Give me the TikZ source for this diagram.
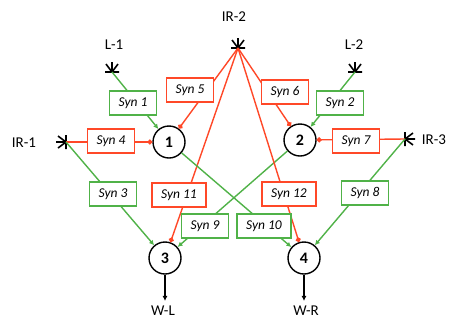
\documentclass[tikz,border=0pt]{standalone}
\usepackage{fontspec}
\setmainfont{Carlito}
\usepackage{tikz}
\usetikzlibrary{arrows.meta}
\definecolor{synG}{RGB}{80,178,72}
\definecolor{synR}{RGB}{255,72,40}

\begin{document}
\begin{tikzpicture}[x=1pt,y=-1pt,
  every node/.style={font=\fontsize{15}{17}\selectfont},
  neuron/.style={circle,draw,line width=1.4pt,minimum size=32pt,inner sep=0pt,font=\fontsize{16}{17}\selectfont\bfseries},
  synbox/.style={draw,fill=white,line width=1.4pt,minimum height=24pt,inner xsep=9pt,font=\fontsize{13.5}{15}\selectfont\itshape},
  syng/.style={synbox,draw=synG},
  synr/.style={synbox,draw=synR},
  exc/.style={synG,line width=1.4pt,-{Latex[length=5pt,width=5pt]}},
  inh/.style={synR,line width=1.4pt,-{Circle[length=5pt]}},
  receptor/.pic={\draw[line width=1.6pt] (-7,0) -- (7,0) (0,0) -- (-6,-8) (0,0) -- (0,-10) (0,0) -- (6,-8);}]
  \useasboundingbox (0,0) rectangle (457,322);

  \coordinate (l1) at (112,72);
  \coordinate (l2) at (355,72);
  \coordinate (ir2) at (238,48);
  \coordinate (ir1) at (66,142);
  \coordinate (ir3) at (405,139);
  \pic at (l1) {receptor};
  \pic at (l2) {receptor};
  \pic at (ir2) {receptor};
  \pic[rotate=90] at (ir1) {receptor};
  \pic[rotate=-90] at (ir3) {receptor};
  \node (tl1) at (114,45) {L-1};
  \node (tl2) at (354,45) {L-2};
  \node (tir2) at (234,17) {IR-2};
  \node (tir1) at (24,143) {IR-1};
  \node (tir3) at (434,140) {IR-3};

  \node[neuron] (n1) at (169,142) {1};
  \node[neuron] (n2) at (300,140) {2};
  \node[neuron] (n3) at (165,258) {3};
  \node[neuron] (n4) at (304,258) {4};
  \node[inner sep=2pt] (wl) at (163,311) {W-L};
  \node[inner sep=2pt] (wr) at (306,311) {W-R};

  \draw[exc] (l1) -- (n1);
  \draw[inh] (ir2) -- (n1);
  \draw[inh] (ir1) -- (n1);
  \draw[exc] (l2) -- (n2);
  \draw[inh] (ir2) -- (n2);
  \draw[inh] (ir3) -- (n2);
  \draw[exc] (ir1) -- (n3);
  \draw[inh] (ir2) -- (n3);
  \draw[exc] (n2) -- (n3);
  \draw[exc] (n1) -- (n4);
  \draw[inh] (ir2) -- (n4);
  \draw[exc] (ir3) -- (n4);
  \draw[line width=1.4pt,-{Latex[length=5pt,width=5pt]},shorten >=3pt] (n3) -- (n3 |- wl.north);
  \draw[line width=1.4pt,-{Latex[length=5pt,width=5pt]},shorten >=3pt] (n4) -- (n4 |- wr.north);

  \node[syng] (syn1) at (133,103) {Syn 1};
  \node[syng] (syn2) at (340,103) {Syn 2};
  \node[syng] (syn3) at (113,194) {Syn 3};
  \node[synr] (syn4) at (111,141) {Syn 4};
  \node[synr] (syn5) at (190,90) {Syn 5};
  \node[synr] (syn6) at (285,92) {Syn 6};
  \node[synr] (syn7) at (356,141) {Syn 7};
  \node[syng] (syn8) at (365,193) {Syn 8};
  \node[syng] (syn9) at (205,226) {Syn 9};
  \node[syng] (syn10) at (264,226) {Syn 10};
  \node[synr] (syn11) at (179,195) {Syn 11};
  \node[synr] (syn12) at (289,194) {Syn 12};
\end{tikzpicture}
\end{document}
